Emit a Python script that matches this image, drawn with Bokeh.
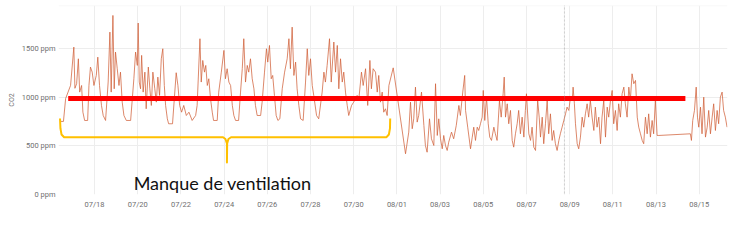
import pandas as pd
from bokeh.plotting import figure
from bokeh.models import (ColumnDataSource, FixedTicker, DatetimeTickFormatter,
                          PrintfTickFormatter, Range1d, BoxAnnotation, Label, Span)
from bokeh.embed import file_html
from bokeh.resources import INLINE

# ---------------- data (time = day of July, fractional; 32 = 08/01) ----------------
co2_day = [
    16.43, 16.56, 16.66, 16.89, 17.04, 17.09, 17.17, 17.25, 17.31, 17.40, 17.46, 17.54, 17.68,
    17.74, 17.81, 17.89, 17.97, 18.08, 18.15, 18.23, 18.32, 18.40, 18.51, 18.63, 18.71, 18.77,
    18.85, 18.91, 18.97, 19.05, 19.13, 19.20, 19.28, 19.36, 19.47, 19.67, 19.82, 19.90, 19.98,
    20.02, 20.07, 20.13, 20.18, 20.25, 20.33, 20.39, 20.49, 20.56, 20.63, 20.70, 20.79, 20.86,
    20.93, 21.01, 21.09, 21.16, 21.23, 21.29, 21.37, 21.43, 21.61, 21.78, 21.86, 21.94, 22.03,
    22.13, 22.25, 22.37, 22.52, 22.68, 22.75, 22.88, 22.94, 23.01, 23.09, 23.15, 23.22, 23.29,
    23.37, 23.45, 23.51, 23.68, 23.75, 23.87, 23.99, 24.06, 24.14, 24.22, 24.30, 24.38, 24.45,
    24.53, 24.67, 24.76, 24.84, 24.91, 24.99, 25.07, 25.14, 25.22, 25.30, 25.38, 25.45, 25.53,
    25.69, 25.76, 25.87, 25.96, 26.02, 26.10, 26.18, 26.25, 26.33, 26.41, 26.49, 26.58, 26.69,
    26.80, 26.92, 27.00, 27.07, 27.15, 27.23, 27.31, 27.38, 27.46, 27.54, 27.66, 27.77, 27.85,
    27.92, 28.00, 28.08, 28.15, 28.28, 28.38, 28.54, 28.62, 28.69, 28.77, 28.88, 28.96, 29.08,
    29.16, 29.24, 29.31, 29.39, 29.47, 29.54, 29.62, 29.70, 29.77, 29.90, 30.00, 30.16, 30.24,
    30.36, 30.44, 30.55, 30.65, 30.75, 30.82, 30.90, 31.01, 31.09, 31.16, 31.24, 31.32, 31.39,
    31.47, 31.55, 31.63, 31.83, 32.40, 32.55, 32.63, 32.71, 32.78, 32.86, 32.94, 33.01, 33.14,
    33.25, 33.32, 33.40, 33.51, 33.60, 33.71, 33.79, 33.87, 33.94, 34.02, 34.10, 34.17, 34.25,
    34.33, 34.40, 34.53, 34.63, 34.75, 34.87, 34.94, 35.05, 35.14, 35.18, 35.28, 35.41, 35.49,
    35.56, 35.64, 35.72, 35.79, 35.87, 35.95, 36.00, 36.07, 36.15, 36.23, 36.30, 36.38, 36.49,
    36.56, 36.64, 36.75, 36.83, 36.92, 36.97, 37.03, 37.11, 37.18, 37.26, 37.34, 37.41, 37.49,
    37.57, 37.64, 37.72, 37.80, 37.88, 37.95, 38.00, 38.11, 38.19, 38.26, 38.34, 38.42, 38.52,
    38.59, 38.65, 38.73, 38.80, 38.88, 38.96, 39.03, 39.11, 39.19, 39.26, 39.34, 39.42, 39.50,
    39.57, 39.65, 39.73, 39.81, 39.88, 39.96, 40.04, 40.12, 40.16, 40.22, 40.27, 40.35, 40.42,
    40.50, 40.58, 40.65, 40.73, 40.81, 40.88, 40.96, 41.04, 41.12, 41.19, 41.27, 41.35, 41.43,
    41.50, 41.58, 41.66, 41.74, 41.81, 41.89, 41.97, 42.04, 42.12, 42.20, 42.27, 42.35, 42.43,
    42.51, 42.58, 42.66, 42.74, 42.81, 42.89, 42.97, 43.05, 43.13, 43.20, 43.28, 43.36, 43.43,
    43.51, 43.59, 43.66, 43.74, 43.82, 43.89, 43.97, 44.05, 44.13, 45.59, 45.64, 45.70, 45.78,
    45.86, 45.92, 45.98, 46.06, 46.13, 46.21, 46.29, 46.37, 46.44, 46.52, 46.60, 46.67, 46.75,
    46.83, 46.90, 46.98, 47.06, 47.13, 47.21, 47.29,
]
co2_ppm = [
    750, 750, 985, 1120, 1513, 1090, 1137, 1393, 1051, 1119, 845, 760, 760,
    1119, 1308, 1256, 1119, 1222, 1410, 1119, 914, 811, 760, 1154, 1667, 1051,
    1838, 1085, 1462, 1291, 1119, 1256, 948, 811, 760, 760, 1188, 1462, 1325,
    1760, 1154, 1085, 1428, 1051, 1256, 880, 1308, 1085, 914, 1256, 1085, 948,
    1205, 1017, 1393, 1496, 1119, 914, 777, 726, 726, 1250, 1119, 914, 845,
    914, 811, 845, 760, 811, 914, 1599, 1154, 1376, 1256, 1325, 1119, 1188,
    983, 845, 760, 760, 1051, 1256, 1479, 1188, 1291, 1154, 1119, 914, 811,
    760, 760, 1051, 1291, 1599, 1154, 1325, 1256, 1393, 1188, 1085, 914, 811,
    811, 948, 1256, 1496, 1359, 1530, 1188, 1222, 1017, 811, 760, 777, 1085,
    1256, 1393, 1599, 1291, 1718, 1222, 1359, 1085, 914, 777, 760, 1154, 1496,
    1222, 1393, 1119, 1017, 811, 777, 1051, 1256, 1154, 1325, 1599, 1154, 1565,
    1256, 1530, 1085, 1393, 1154, 1256, 1051, 914, 811, 914, 948, 1017, 983,
    1256, 1119, 1291, 914, 1376, 1085, 1291, 1256, 1051, 1222, 948, 1051, 845,
    880, 811, 1119, 1300, 418, 640, 948, 675, 777, 1102, 743, 811, 1051,
    709, 503, 434, 777, 572, 503, 1137, 606, 777, 572, 469, 606, 503,
    452, 537, 640, 572, 709, 914, 811, 1051, 1222, 863, 691, 469, 589,
    691, 555, 691, 657, 726, 794, 1068, 760, 999, 726, 589, 555, 691,
    623, 555, 965, 794, 1034, 1205, 794, 931, 726, 863, 555, 486, 623,
    726, 863, 623, 794, 589, 863, 1034, 623, 555, 691, 486, 452, 965,
    794, 589, 794, 521, 726, 965, 623, 828, 555, 657, 521, 452, 555,
    623, 691, 760, 828, 897, 863, 999, 965, 1102, 931, 726, 521, 469,
    589, 794, 691, 828, 931, 794, 965, 794, 657, 897, 691, 794, 521,
    794, 965, 589, 897, 794, 965, 1068, 726, 863, 657, 931, 794, 1034,
    1102, 931, 794, 1102, 965, 1239, 1137, 1171, 794, 691, 623, 555, 521,
    794, 623, 828, 589, 760, 623, 965, 606, 606, 623, 555, 760, 863,
    1102, 794, 691, 897, 623, 999, 589, 691, 863, 623, 794, 931, 657,
    863, 726, 999, 1051, 863, 794, 691,
]

# x ticks (every two days) and y ticks
tick_days = [18, 20, 22, 24, 26, 28, 30, 32, 34, 36, 38, 40, 42, 44, 46]
y_ticks = [0, 500, 1000, 1500]

# annotations drawn on the chart
threshold_day = [16.78, 45.36]
threshold_ppm = [985, 985]
brace_day = [16.40, 16.42, 16.47, 16.59, 23.95, 24.06, 24.13, 24.13, 24.14, 24.20, 24.32,
             31.52, 31.63, 31.68, 31.69]
brace_ppm = [780, 678, 616, 588, 588, 570, 524, 329, 524, 570, 588, 588, 616, 678, 780]
annotation_text = "Manque de ventilation"
annotation_pos = (19.81, 116)
marker_day = 39.76

BASE = pd.Timestamp("2023-07-01")


def ms(d):
    return (BASE + pd.Timedelta(days=d - 1)).value / 1e6


def ms_list(days):
    return [ms(d) for d in days]


src = ColumnDataSource(dict(t=ms_list(co2_day), v=co2_ppm))

p = figure(width=756, height=243, x_axis_type="datetime",
           x_range=Range1d(ms(16.33), ms(47.31)), y_range=Range1d(0, 1940),
           output_backend="svg", toolbar_location=None,
           min_border_left=58, min_border_right=29, min_border_top=5, min_border_bottom=49)
p.outline_line_color = None
p.background_fill_color = "white"
p.border_fill_color = "white"

# grid
p.xgrid.grid_line_color = "#ededed"
p.ygrid.grid_line_color = "#ededed"
p.ygrid.ticker = FixedTicker(ticks=y_ticks)
p.add_layout(Span(location=1938, dimension="width", line_color="#f2f2f2", line_width=1))

# axes
xt = FixedTicker(ticks=ms_list(tick_days))
p.xaxis.ticker = xt
p.xgrid.ticker = xt
p.xaxis.formatter = DatetimeTickFormatter(days="%m/%d", months="%m/%d", hours="%m/%d")
p.yaxis.ticker = FixedTicker(ticks=y_ticks)
p.yaxis.formatter = PrintfTickFormatter(format="%d ppm")
for ax in (p.xaxis, p.yaxis):
    ax.axis_line_color = None
    ax.major_tick_line_color = None
    ax.minor_tick_line_color = None
    ax.major_tick_in = 0
    ax.major_tick_out = 0
    ax.major_label_text_font = "Roboto"
    ax.major_label_text_font_size = "7.5px"
    ax.major_label_text_color = "#6f6f6f"
p.xaxis.major_label_standoff = 5
p.yaxis.major_label_standoff = 3
p.yaxis.axis_label = "CO2"
p.yaxis.axis_label_text_font = "Roboto"
p.yaxis.axis_label_text_font_size = "7px"
p.yaxis.axis_label_text_font_style = "normal"
p.yaxis.axis_label_text_color = "#6f6f6f"
p.yaxis.axis_label_standoff = 3

# dashed marker
p.add_layout(BoxAnnotation(left=ms(marker_day), right=ms(marker_day), top=2200, bottom=-800,
                           fill_alpha=0, line_color="#8a8a8a", line_width=1, line_dash="2 2"))

# series
p.line("t", "v", source=src, line_color="#D0603A", line_alpha=0.75, line_width=1)

# threshold
p.line(ms_list(threshold_day), threshold_ppm, line_color="#FF0000", line_width=5, line_cap="butt")

# brace
p.line(ms_list(brace_day), brace_ppm, line_color="#FFC000", line_width=2, line_join="round")

p.add_layout(Label(x=ms(annotation_pos[0]), y=annotation_pos[1], text=annotation_text,
                   text_font="Lato", text_font_size="18px", text_color="#111111",
                   text_baseline="alphabetic"))

open("out.html", "w").write(file_html(p, INLINE))
